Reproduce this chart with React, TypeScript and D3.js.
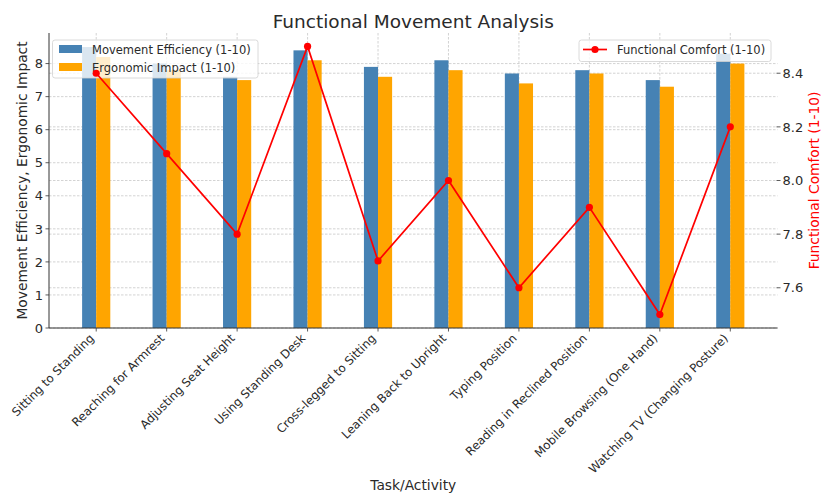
import React from "react";
import * as d3 from "d3";

const categories = [
  "Sitting to Standing",
  "Reaching for Armrest",
  "Adjusting Seat Height",
  "Using Standing Desk",
  "Cross-legged to Sitting",
  "Leaning Back to Upright",
  "Typing Position",
  "Reading in Reclined Position",
  "Mobile Browsing (One Hand)",
  "Watching TV (Changing Posture)",
];
const movementEfficiency = [8.5, 8.0, 7.6, 8.4, 7.9, 8.1, 7.7, 7.8, 7.5, 8.3];
const ergonomicImpact = [8.2, 7.8, 7.5, 8.1, 7.6, 7.8, 7.4, 7.7, 7.3, 8.0];
const functionalComfort = [8.4, 8.1, 7.8, 8.5, 7.7, 8.0, 7.6, 7.9, 7.5, 8.2];
const leftTicks = [0, 1, 2, 3, 4, 5, 6, 7, 8];
const rightTicks = [7.6, 7.8, 8.0, 8.2, 8.4];

const W = 823;
const H = 494;
const L = 49;
const R = 777.5;
const T = 33;
const B = 328;
const FONT = "DejaVu Sans, Verdana, sans-serif";
const TXT = "#2a2a2a";
const BLUE = "#4682B4";
const ORANGE = "#FFA500";
const RED = "#FF0000";
const GRID = "#c8c8c8";

export default function App() {
  const bw = 0.2;
  const xMin = -bw;
  const xMax = categories.length - 1 + bw;
  const pad = (xMax - xMin) * 0.05;
  const x = d3.scaleLinear().domain([xMin - pad, xMax + pad]).range([L, R]);
  const maxBar = d3.max([...movementEfficiency, ...ergonomicImpact]) as number;
  const yL = d3.scaleLinear().domain([0, maxBar * 1.05]).range([B, T]);
  const cMin = d3.min(functionalComfort) as number;
  const cMax = d3.max(functionalComfort) as number;
  const cPad = (cMax - cMin) * 0.05;
  const yR = d3.scaleLinear().domain([cMin - cPad, cMax + cPad]).range([B, T]);
  const pxW = x(bw) - x(0);

  const line = d3
    .line<number>()
    .x((_, i) => x(i))
    .y((d) => yR(d));

  return (
    <svg
      width={W}
      height={H}
      style={{ position: "absolute", left: 0, top: 0, background: "#fff" }}
      fontFamily={FONT}
    >
      {/* title */}
      <text x={(L + R) / 2} y={28} textAnchor="middle" fontSize={18.5} fill={TXT}>
        Functional Movement Analysis
      </text>

      {/* grid */}
      <g stroke={GRID} strokeWidth={0.8} strokeDasharray="2.5,1.5">
        {leftTicks.map((t) => (
          <line key={"gl" + t} x1={L} x2={R} y1={yL(t)} y2={yL(t)} />
        ))}
        {categories.map((c, i) => (
          <line key={"gv" + c} x1={x(i)} x2={x(i)} y1={T} y2={B} />
        ))}
        {rightTicks.map((t) => (
          <line key={"gr" + t} x1={L} x2={R} y1={yR(t)} y2={yR(t)} />
        ))}
      </g>

      {/* bars */}
      {movementEfficiency.map((v, i) => (
        <rect key={"b" + i} x={x(i - bw)} y={yL(v)} width={pxW} height={B - yL(v)} fill={BLUE} />
      ))}
      {ergonomicImpact.map((v, i) => (
        <rect key={"o" + i} x={x(i)} y={yL(v)} width={pxW} height={B - yL(v)} fill={ORANGE} />
      ))}

      {/* legend 1 */}
      <g>
        <rect x={52.5} y={40} width={205.5} height={38} rx={2.5} fill="#fff" fillOpacity={0.8} stroke="#d0d0d0" strokeWidth={0.8} />
        <rect x={59} y={45} width={23} height={8} fill={BLUE} />
        <rect x={59} y={63} width={23} height={8} fill={ORANGE} />
        <text x={92} y={53.5} fontSize={11.5} fill={TXT}>Movement Efficiency (1-10)</text>
        <text x={92} y={71.5} fontSize={11.5} fill={TXT}>Ergonomic Impact (1-10)</text>
      </g>

      {/* line */}
      <path d={line(functionalComfort) || ""} fill="none" stroke={RED} strokeWidth={1.7} />
      {functionalComfort.map((v, i) => (
        <circle key={"p" + i} cx={x(i)} cy={yR(v)} r={3.6} fill={RED} />
      ))}

      {/* legend 2 */}
      <g>
        <rect x={579} y={40} width={192} height={21.5} rx={2.5} fill="#fff" fillOpacity={0.8} stroke="#d0d0d0" strokeWidth={0.8} />
        <line x1={583} x2={607} y1={49.5} y2={49.5} stroke={RED} strokeWidth={1.7} />
        <circle cx={595} cy={49.5} r={3.6} fill={RED} />
        <text x={617} y={54} fontSize={11.5} fill={TXT}>Functional Comfort (1-10)</text>
      </g>

      {/* spines */}
      <line x1={L} x2={L} y1={T} y2={B} stroke="#333" strokeWidth={1} />
      <line x1={L} x2={R} y1={B} y2={B} stroke="#333" strokeWidth={1} />

      {/* left ticks */}
      {leftTicks.map((t) => (
        <g key={"lt" + t}>
          <line x1={L - 3.5} x2={L} y1={yL(t)} y2={yL(t)} stroke="#333" strokeWidth={0.8} />
          <text x={L - 6} y={yL(t)} dy="0.36em" textAnchor="end" fontSize={13} fill={TXT}>
            {d3.format("d")(t)}
          </text>
        </g>
      ))}

      {/* right ticks */}
      {rightTicks.map((t) => (
        <g key={"rt" + t}>
          <line x1={R - 1} x2={R + 3} y1={yR(t)} y2={yR(t)} stroke="#333" strokeWidth={0.8} />
          <text x={R + 5} y={yR(t)} dy="0.36em" textAnchor="start" fontSize={13} fill={TXT}>
            {d3.format(".1f")(t)}
          </text>
        </g>
      ))}

      {/* x ticks */}
      {categories.map((c, i) => (
        <g key={"xt" + c}>
          <line x1={x(i)} x2={x(i)} y1={B} y2={B + 3.5} stroke="#333" strokeWidth={0.8} />
          <text
            transform={`translate(${x(i) - 1.5},${B + 11}) rotate(-45)`}
            textAnchor="end"
            fontSize={11.8}
            fill={TXT}
          >
            {c}
          </text>
        </g>
      ))}

      {/* axis labels */}
      <text
        transform={`translate(27,${(T + B) / 2}) rotate(-90)`}
        textAnchor="middle"
        fontSize={13.8}
        fill={TXT}
      >
        Movement Efficiency, Ergonomic Impact
      </text>
      <text
        transform={`translate(819,${(T + B) / 2}) rotate(-90)`}
        textAnchor="middle"
        fontSize={13.8}
        fill={RED}
      >
        Functional Comfort (1-10)
      </text>
      <text x={(L + R) / 2} y={490} textAnchor="middle" fontSize={13.8} fill={TXT}>
        Task/Activity
      </text>
    </svg>
  );
}
